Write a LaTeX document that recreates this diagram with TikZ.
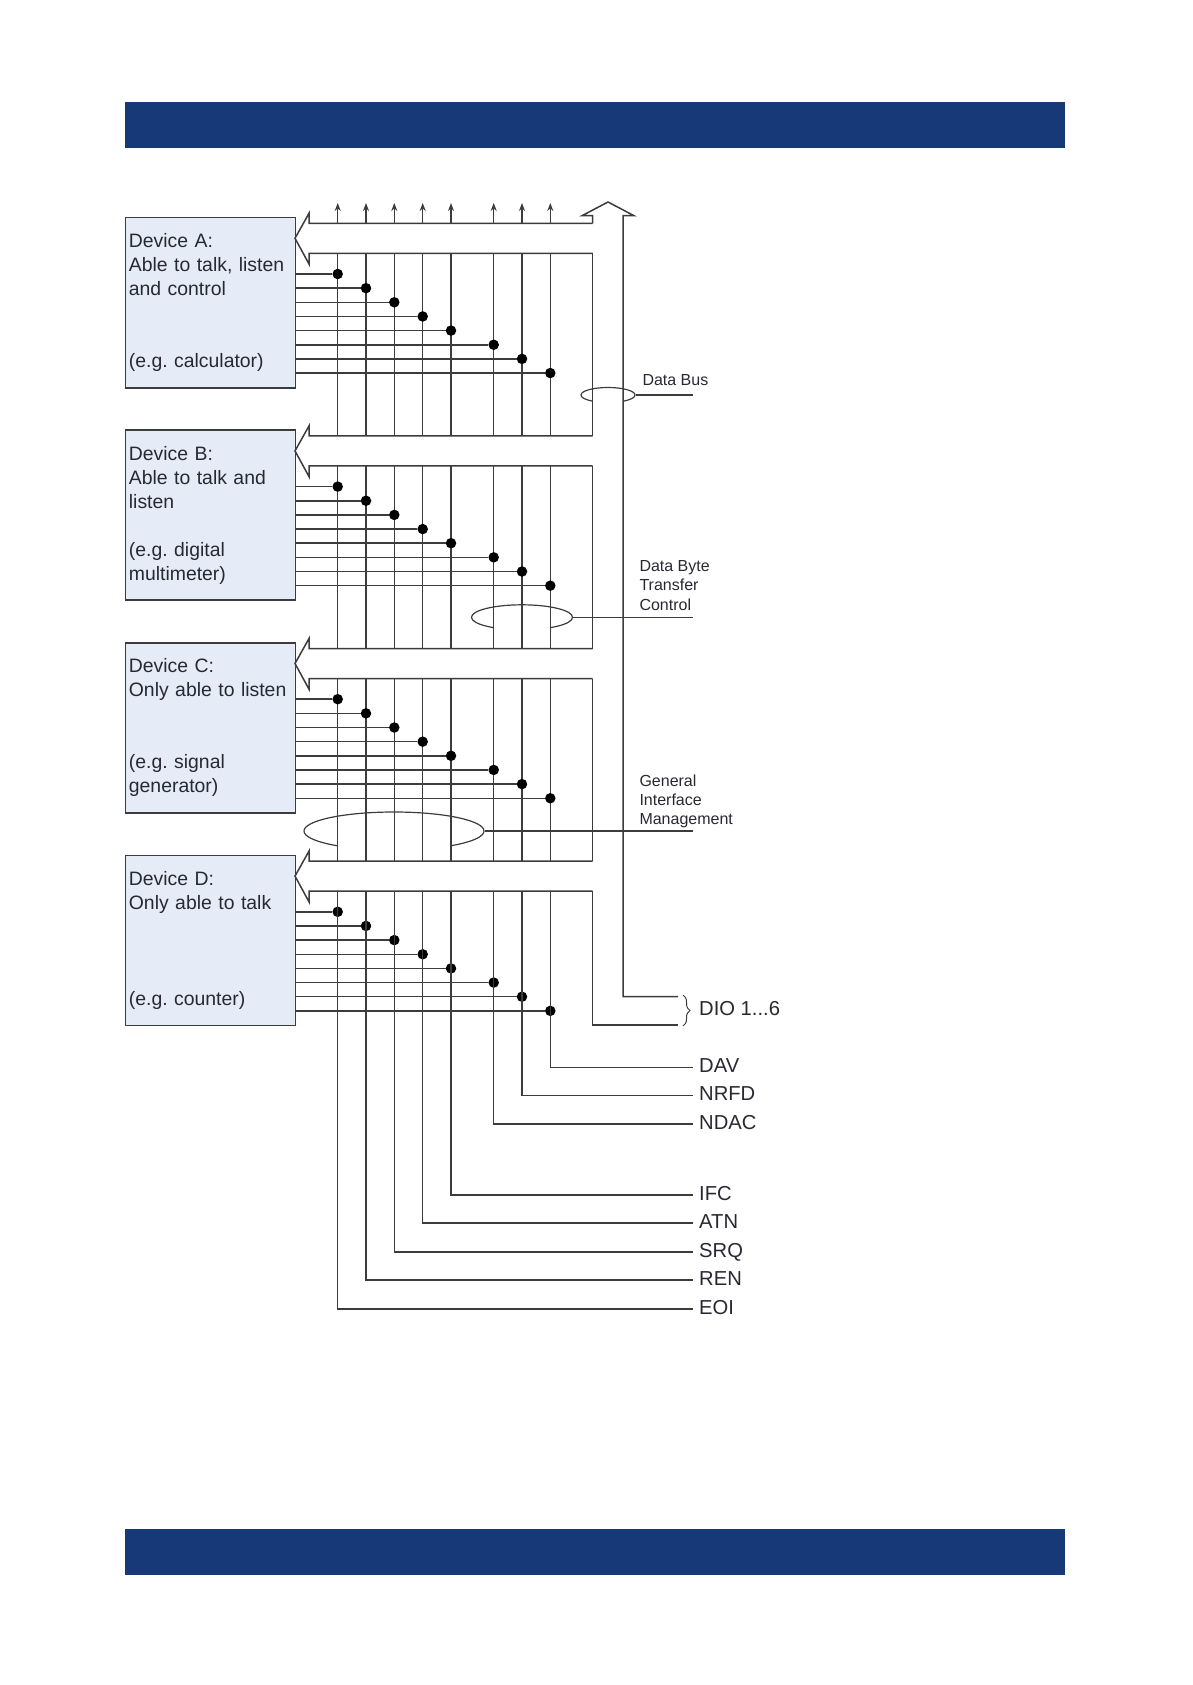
\documentclass[tikz,border=0pt]{standalone}
\usepackage{fontspec}
\setmainfont{Liberation Sans}
\frenchspacing
\usetikzlibrary{arrows.meta, decorations.pathreplacing, shapes.geometric}

\definecolor{banner}{RGB}{23, 57, 120}
\definecolor{devfill}{RGB}{230, 236, 247}
\definecolor{wiregray}{RGB}{60, 60, 60}
\definecolor{textgray}{RGB}{40, 40, 50}

\newcommand{\wirecols}{1/337.7, 2/366, 3/394.3, 4/422.7, 5/451, 6/493.7, 7/522, 8/550.3}

\begin{document}
\begin{tikzpicture}[
    x = 1pt,
    y = -1pt,
    %
    device/.style = {draw = wiregray,
      line width = 1.8pt,
      fill = devfill,
      text = textgray,
      anchor = north west,
      align = left,
      inner xsep = 3.5pt,
      inner ysep = 0pt,
      text width = 163pt,
      minimum width = 170pt,
      minimum height = 170pt,
      font = \fontsize{19.4}{24}\selectfont},
    %
    wire/.style = {draw = wiregray, line width = 1.5pt},
    %
    junction/.style = {circle, fill = black, inner sep = 0pt, minimum size = 10.5pt},
    %
    busloop/.style = {ellipse, draw = wiregray, line width = 1.2pt, inner sep = 0pt},
    %
    signal/.style = {anchor = base west, inner sep = 0pt, xshift = 6.3pt, yshift = -5.2pt,
      text = textgray,
      font = \fontsize{20.2}{24}\selectfont},
    %
    group/.style = {anchor = west, align = left, inner sep = 0pt,
      text = textgray,
      font = \fontsize{16}{19.3}\selectfont},
    ]

    \useasboundingbox (0, 0) rectangle (1192, 1685);

    \fill [banner] (124.7, 102) rectangle (1065, 148);
    \fill [banner] (124.7, 1529) rectangle (1065, 1575);

    \node at (124.5, 216.7)
    [device, name = devA]
    {Device A:\\Able to talk, listen\\and control\\[48pt](e.g. calculator)};
    \node at (124.5, 429.3)
    [device, name = devB]
    {Device B:\\Able to talk and\\listen\\[24pt](e.g. digital\\multimeter)};
    \node at (124.5, 641.9)
    [device, name = devC]
    {Device C:\\Only able to listen\\[48pt](e.g. signal\\generator)};
    \node at (124.5, 854.5)
    [device, name = devD]
    {Device D:\\Only able to talk\\[72pt](e.g. counter)};

    % loops round the bundles, open at the back
    \node at (608, 395)
    [busloop, minimum width = 54pt, minimum height = 15pt, name = loopbus] {};
    \node at (522, 617.3)
    [busloop, minimum width = 101pt, minimum height = 25pt, name = loopbyte] {};
    \node at (394, 831)
    [busloop, minimum width = 180pt, minimum height = 38pt, name = loopgen] {};

    \fill [white] (592.7, 395) rectangle (623, 404);
    \fill [white] (493.7, 617.3) rectangle (550.3, 632);
    \fill [white] (337.7, 831) rectangle (451, 852);

    % bus outline at each device
    \foreach \dev [count = \d from 0] in {A, B, C, D} {
      \begin{scope}[shift = {(0, \d*212.6)}]
        \draw [wire] (592.7, 223.3) -- (309, 223.3) -- (309, 213.3) -- (295, 238.3)
        -- (309, 264) -- (309, 253.3) -- (592.7, 253.3);
        \ifnum\d<3
          \draw [wire] (592.7, 253.3) -- (592.7, 435.9);
        \fi
      \end{scope}
    }

    \coordinate (bytetop) at (592.7, 891.1);
    \coordinate (dioend) at (678, 1025);
    \draw [wire] (bytetop) |- (dioend);

    % data bus itself
    \coordinate (busstub) at (592.7, 223.3);
    \coordinate (busleft) at (582, 215.7);
    \coordinate (busapex) at (608, 202);
    \coordinate (busright) at (634, 215.7);
    \coordinate (diotop) at (678, 996.7);
    \draw [wire] (busstub) -- (592.7, 215.7) -- (busleft) -- (busapex)
    -- (busright) -- (623, 215.7) |- (diotop);

    % outlets at the top
    \foreach \c/\x in \wirecols {
      \draw [wire, -{Stealth[length = 8pt, width = 6pt]}] (\x, 223.3) -- (\x, 203);
    }

    % lines between the devices
    \foreach \c/\x in \wirecols {
      \foreach \top in {253.3, 465.9, 678.5} {
        \draw [wire] (\x, \top) -- (\x, \top + 182.6);
      }
    }

    % taps
    \foreach \dev [count = \d from 0] in {A, B, C, D} {
      \begin{scope}[shift = {(0, \d*212.6)}]
        \foreach \c/\x in \wirecols {
          \node at (\x, 274 + 14.15*\c - 14.15) [junction, name = dot\dev\c] {};
          \draw [wire] (dot\dev\c) -- (dot\dev\c -| dev\dev.east);
        }
      \end{scope}
    }

    % signal names
    \foreach \c/\x/\y/\name in {8/550.3/1067.3/DAV, 7/522/1095.7/NRFD, 6/493.7/1124/NDAC,
      5/451/1195/IFC, 4/422.7/1223/ATN, 3/394.3/1252/SRQ, 2/366/1280/REN, 1/337.7/1309/EOI} {
      \coordinate (end\c) at (692.7, \y);
      \node at (end\c) [signal, name = sig\c] {\name};
      \draw [wire] (\x, 891.1) |- (end\c);
    }

    \draw [decorate, decoration = {brace, amplitude = 7pt}, draw = wiregray, line width = 1pt]
    (683, 995) -- (683, 1026);
    \node at (692.7, 1010.5) [signal, name = sigdio] {DIO 1...6};

    % bundle names
    \coordinate (endbus) at (692.7, 395);
    \coordinate (endbyte) at (692.7, 617.3);
    \coordinate (endgen) at (692.7, 831);
    \draw [wire] (loopbus.east) -- (endbus);
    \draw [wire] (loopbyte.east) -- (endbyte);
    \draw [wire] (loopgen.east) -- (endgen);

    \node at (642.3, 380) [group, name = labelbus] {Data Bus};
    \node at (639.3, 585.5) [group, name = labelbyte] {Data Byte\\Transfer\\Control};
    \node at (639.3, 801.5) [group, name = labelgen] {General\\Interface\\Management};

  \end{tikzpicture}
\end{document}
